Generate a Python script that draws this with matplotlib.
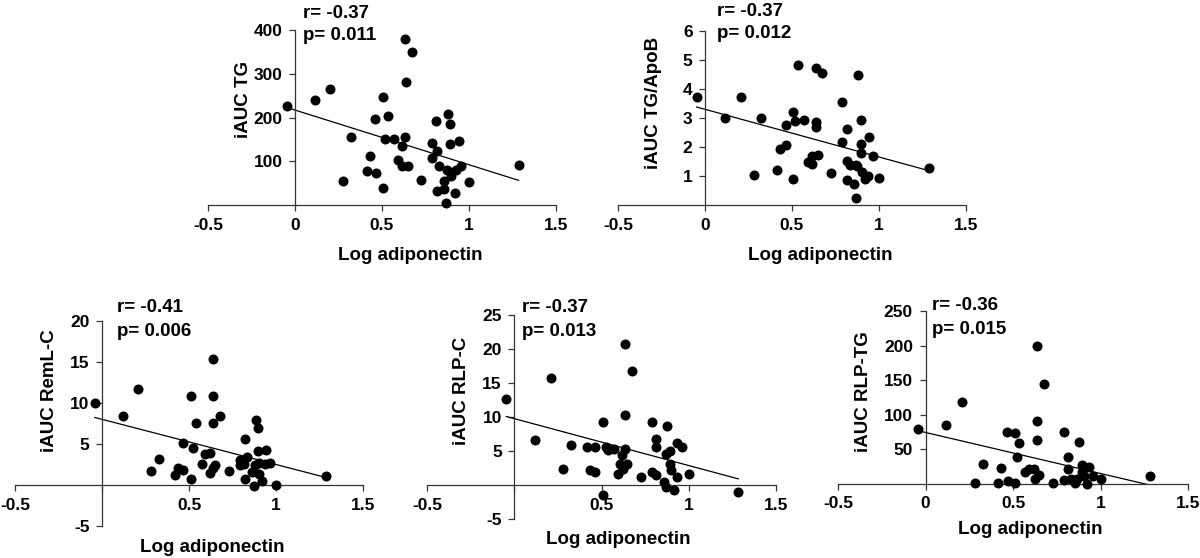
import matplotlib.pyplot as plt
import numpy as np

plt.rcParams['font.family'] = ['Liberation Sans', 'DejaVu Sans']
plt.rcParams['font.weight'] = 'bold'

W, H = 1200, 558

# data (log adiponectin vs iAUC)
tg_x = [-0.048, 0.113, 0.203, 0.278, 0.324, 0.412, 0.431, 0.464, 0.462, 0.506, 0.506,
        0.517, 0.533, 0.569, 0.590, 0.613, 0.615, 0.632, 0.630, 0.636, 0.648, 0.672,
        0.726, 0.785, 0.787, 0.812, 0.814, 0.814, 0.830, 0.854, 0.856, 0.866, 0.879,
        0.874, 0.891, 0.891, 0.898, 0.918, 0.925, 0.940, 0.956, 1.0, 1.285]
tg_y = [227, 240, 266, 55, 156, 78, 111, 73, 196, 246, 38,
        150, 204, 150, 104, 134, 89, 155, 379, 282, 89, 349,
        57, 142, 107, 192, 123, 32, 89, 37, 54, 5, 208,
        79, 185, 140, 66, 28, 81, 147, 90, 53, 92]

apob_x = [-0.048, 0.113, 0.205, 0.280, 0.324, 0.414, 0.433, 0.464, 0.464, 0.506, 0.506,
          0.519, 0.534, 0.571, 0.590, 0.613, 0.615, 0.636, 0.636, 0.638, 0.649, 0.674,
          0.726, 0.787, 0.787, 0.818, 0.818, 0.818, 0.833, 0.858, 0.868, 0.868, 0.879,
          0.875, 0.895, 0.895, 0.898, 0.904, 0.920, 0.935, 0.941, 0.964, 1.0, 1.289]
apob_y = [3.72, 3.0, 3.72, 1.02, 3.0, 1.20, 1.94, 2.07, 2.75, 3.21, 0.89,
          2.89, 4.83, 2.93, 1.50, 1.70, 1.41, 2.87, 4.72, 2.69, 1.72, 4.56,
          1.09, 3.54, 2.16, 2.63, 1.52, 0.86, 1.37, 0.74, 1.37, 0.25, 4.48,
          1.35, 2.92, 2.10, 1.80, 1.15, 0.89, 1.01, 2.34, 1.70, 0.94, 1.29]

reml_x = [-0.042, 0.119, 0.207, 0.284, 0.328, 0.418, 0.437, 0.466, 0.466, 0.510, 0.510,
          0.523, 0.538, 0.573, 0.594, 0.619, 0.619, 0.636, 0.638, 0.638, 0.638, 0.651,
          0.678, 0.730, 0.791, 0.791, 0.820, 0.820, 0.833, 0.814, 0.862, 0.872, 0.883,
          0.877, 0.897, 0.897, 0.900, 0.904, 0.921, 0.935, 0.943, 0.967, 1.0, 1.289]
reml_y = [9.96, 8.45, 11.7, 1.71, 3.22, 1.27, 2.12, 1.80, 5.10, 10.8, 0.69,
          4.49, 7.59, 2.57, 3.80, 3.92, 1.47, 2.08, 15.4, 10.9, 7.55, 2.49,
          8.45, 1.67, 3.06, 2.49, 5.59, 0.69, 3.47, 2.57, 1.59, -0.08, 7.88,
          2.41, 6.9, 4.12, 1.35, 2.65, 0.45, 2.57, 4.29, 2.65, 0.0, 1.06]

rlpc_x = [-0.046, 0.118, 0.208, 0.280, 0.326, 0.415, 0.434, 0.465, 0.465, 0.506, 0.506,
          0.524, 0.535, 0.570, 0.594, 0.615, 0.608, 0.625, 0.636, 0.636, 0.636, 0.644,
          0.674, 0.726, 0.787, 0.787, 0.813, 0.813, 0.813, 0.857, 0.867, 0.876, 0.872,
          0.891, 0.895, 0.897, 0.914, 0.930, 0.933, 0.964, 1.0, 1.284]
rlpc_y = [12.6, 6.63, 15.8, 2.40, 5.82, 5.53, 2.26, 5.53, 1.92, 9.23, -1.54,
          5.63, 5.14, 5.34, 1.63, 4.47, 3.13, 2.40, 20.7, 10.3, 5.29, 3.03,
          16.8, 1.25, 9.28, 1.97, 6.73, 5.53, 1.49, 0.38, -0.24, 8.65, 4.57,
          4.95, 3.03, 2.16, -0.67, 1.11, 6.20, 5.53, 1.68, -0.96]

rlptg_x = [-0.044, 0.116, 0.210, 0.282, 0.326, 0.417, 0.434, 0.467, 0.469, 0.512, 0.512,
           0.524, 0.535, 0.568, 0.594, 0.619, 0.625, 0.638, 0.638, 0.638, 0.650, 0.676,
           0.730, 0.790, 0.790, 0.817, 0.817, 0.832, 0.857, 0.863, 0.878, 0.893, 0.897,
           0.903, 0.924, 0.937, 0.958, 1.0, 1.284]
rlptg_y = [80, 85, 118, 2, 29, 1, 23, 74.5, 5, 73, 1,
           39, 59, 18, 21, 22, 7, 200, 91, 63, 13, 144,
           2, 75, 6, 39, 21, 7, 1, 7, 61, 27, 18,
           11, 0.5, 24, 12, 7, 11]

# trendline (intercept, slope)
fits = [(217, -125), (3.30, -1.645), (8.01, -5.51), (9.76, -6.9), (74.5, -59.3)]

ylabels = ['iAUC TG', 'iAUC TG/ApoB', 'iAUC RemL-C', 'iAUC RLP-C', 'iAUC RLP-TG']
r_text = ['r= -0.37', 'r= -0.37', 'r= -0.41', 'r= -0.37', 'r= -0.36']
p_text = ['p= 0.011', 'p= 0.012', 'p= 0.006', 'p= 0.013', 'p= 0.015']
ylims = [(0, 400), (0, 6), (-5, 20), (-5, 25), (0, 250)]
yticks = [[100, 200, 300, 400], [1, 2, 3, 4, 5, 6], [-5, 5, 10, 15, 20],
          [-5, 5, 10, 15, 20, 25], [50, 100, 150, 200, 250]]
xticks_all = [-0.5, 0, 0.5, 1, 1.5]
xlabels_on = [['-0.5', '0', '0.5', '1', '1.5']] * 2 + [['-0.5', '', '0.5', '1', '1.5']] * 2 + \
             [['-0.5', '0', '0.5', '1', '1.5']]

# pixel layout: axes (left, top, right, bottom), ylabel pos, r text pos, xlabel pos
boxes = [(208, 30, 556, 205), (618, 31, 966, 205), (15, 321, 363, 526),
         (427, 315, 776, 519), (838, 311, 1188, 484)]
ylab_pos = [(243, 100), (653, 103), (50, 391), (462, 391), (863, 392)]
rp_pos = [(303, 14, 36), (717, 11, 33), (117, 307, 332), (522, 307, 331), (932, 305, 329)]
xlab_pos = [(410, 255), (820, 255), (212, 547), (618, 540), (1030, 530)]

series = [(tg_x, tg_y), (apob_x, apob_y), (reml_x, reml_y), (rlpc_x, rlpc_y), (rlptg_x, rlptg_y)]

fig = plt.figure(figsize=(W / 100, H / 100), dpi=100)

for i in range(5):
    l, t, r, b = boxes[i]
    ax = fig.add_axes([l / W, 1 - b / H, (r - l) / W, (b - t) / H])
    x, y = series[i]
    ax.scatter(x, y, s=52, color='black', zorder=3, clip_on=False, linewidths=0)
    a, k = fits[i]
    xs = np.array([min(x), max(x)])
    ax.plot(xs, a + k * xs, color='black', lw=0.9)
    ax.set_xlim(-0.5, 1.5)
    ax.set_ylim(*ylims[i])
    ax.set_xticks(xticks_all)
    ax.set_xticklabels(xlabels_on[i])
    ax.set_yticks(yticks[i])
    ax.set_yticklabels([str(v) for v in yticks[i]])
    ax.spines['top'].set_visible(False)
    ax.spines['right'].set_visible(False)
    ax.spines['left'].set_position(('data', 0))
    ax.spines['bottom'].set_position(('data', 0))
    for s in ('left', 'bottom'):
        ax.spines[s].set_color('#333333')
        ax.spines[s].set_linewidth(0.9)
    ax.tick_params(direction='out', length=4, width=0.9, color='#333333',
                   labelsize=12.5, pad=5)
    ax.patch.set_visible(False)

    fig.text(ylab_pos[i][0] / W, 1 - ylab_pos[i][1] / H, ylabels[i], rotation=90,
             ha='center', va='center', fontsize=13.5, fontweight='bold')
    fig.text(rp_pos[i][0] / W, 1 - rp_pos[i][1] / H, r_text[i],
             ha='left', va='center', fontsize=13.5, fontweight='bold')
    fig.text(rp_pos[i][0] / W, 1 - rp_pos[i][2] / H, p_text[i],
             ha='left', va='center', fontsize=13.5, fontweight='bold')
    fig.text(xlab_pos[i][0] / W, 1 - xlab_pos[i][1] / H, 'Log adiponectin',
             ha='center', va='center', fontsize=13.5, fontweight='bold')

fig.savefig('out.png', dpi=100)
